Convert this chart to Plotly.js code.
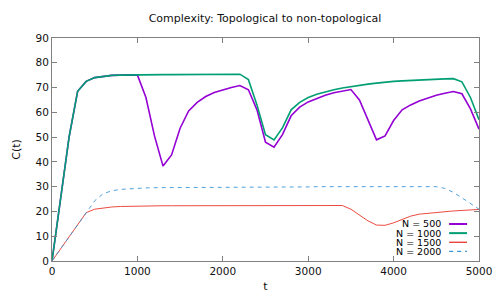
<!DOCTYPE html>
<html>
<head>
<meta charset="utf-8">
<script src="https://cdn.plot.ly/plotly-3.0.1.min.js"></script>
<style>html,body{margin:0;padding:0;background:#fff}#chart{width:500px;height:300px}</style>
</head>
<body>
<div id="chart"></div>
<script>
const t = [0,100,200,300,400,500,600,700,800,900,1000,1100,1200,1300,1400,1500,1600,1700,1800,1900,2000,2100,2200,2300,2400,2500,2600,2700,2800,2900,3000,3100,3200,3300,3400,3500,3600,3700,3800,3900,4000,4100,4200,4300,4400,4500,4600,4700,4800,4900,5000];

const names = ["N = 500", "N = 1000", "N = 1500", "N = 2000"];

const n500 = [0,25,50,68.5,72.5,74,74.6,74.9,75,75.1,75.1,66,50.5,38.3,42.8,53.6,60.6,64,66.4,68,69.1,70,70.8,69.1,61,47.9,45.9,51.1,58.6,62.1,64.2,65.7,66.9,67.9,68.7,69.2,65,56.7,48.9,50.5,56.7,61,63,64.6,65.9,66.9,67.7,68.4,67.5,61.4,53.2];

const n1000 = [0,25,50,68.5,72.5,74,74.6,74.9,75,75.1,75.1,75.1,75.2,75.2,75.2,75.2,75.2,75.3,75.3,75.3,75.3,75.3,75.4,73.2,63,51,48.9,53.8,61,64,66,67.3,68.3,69.1,69.8,70.4,70.9,71.4,71.8,72.2,72.5,72.7,72.9,73.1,73.3,73.4,73.5,73.6,72.3,66,57];

const n1500 = [0,4.9,9.8,14.7,19.5,20.9,21.5,21.8,22,22.1,22.2,22.2,22.2,22.3,22.3,22.3,22.3,22.3,22.3,22.3,22.3,22.3,22.4,22.4,22.4,22.4,22.4,22.4,22.4,22.4,22.4,22.4,22.4,22.4,22.4,20.9,18.5,16.2,14.5,14.4,15.4,16.9,18.1,18.9,19.3,19.7,20,20.2,20.4,20.6,20.8];

const n2000 = [0,4.9,9.8,14.7,19.6,24.3,27.2,28.3,28.9,29.2,29.4,29.5,29.6,29.6,29.7,29.7,29.7,29.8,29.8,29.8,29.8,29.8,29.9,29.9,29.9,29.9,29.9,29.9,29.9,29.9,29.9,30,30,30,30,30,30,30,30,30,30,30,30,30,30,30,29.3,27.7,25.5,23.2,20.9];

const series = [n500, n1000, n1500, n2000];
const colors = ["#9400d3", "#009e73", "#e8372a", "#3d96d6"];
const widths = [1.6, 1.6, 0.9, 0.9];
const dashes = ["solid", "solid", "solid", "4px,4px"];

const traces = series.map((y, i) => ({
  x: t, y: y, type: "scatter", mode: "lines", name: names[i],
  line: {color: colors[i], width: widths[i], dash: dashes[i]},
  showlegend: false, hoverinfo: "skip"
}));

// custom gnuplot-style key (text right-aligned, sample to the right)
const keyTextX = 0.916, keyLineX0 = 0.930, keyLineX1 = 0.972;
const keyRows = [0.166, 0.125, 0.084, 0.043];
const annotations = names.map((nm, i) => ({
  xref: "paper", yref: "paper", x: keyTextX, y: keyRows[i],
  xanchor: "right", yanchor: "middle", text: nm, showarrow: false,
  font: {family: "DejaVu Sans", size: 9.5, color: "#000"}
}));
const shapes = names.map((nm, i) => ({
  type: "line", xref: "paper", yref: "paper",
  x0: keyLineX0, x1: keyLineX1, y0: keyRows[i], y1: keyRows[i],
  line: {color: colors[i], width: widths[i] + 0.4, dash: dashes[i]}
}));

const axisCommon = {
  showgrid: false, zeroline: false, showline: true, linecolor: "#808080",
  linewidth: 1, mirror: "allticks", ticks: "inside", ticklen: 5,
  tickcolor: "#808080", tickwidth: 1,
  tickfont: {family: "DejaVu Sans", size: 10.5, color: "#111"}
};

const layout = {
  width: 500, height: 300,
  margin: {l: 52, r: 21, t: 38, b: 39},
  paper_bgcolor: "#fff", plot_bgcolor: "#fff",
  title: {text: "Complexity: Topological to non-topological",
          font: {family: "DejaVu Sans", size: 11, color: "#111"},
          x: 0.53, xanchor: "center", y: 0.94, yanchor: "middle"},
  xaxis: Object.assign({}, axisCommon, {
    range: [0, 5000], dtick: 1000, tick0: 0,
    title: {text: "t", font: {family: "DejaVu Sans", size: 11, color: "#111"}, standoff: 6}
  }),
  yaxis: Object.assign({}, axisCommon, {
    range: [0, 90], dtick: 10, tick0: 0,
    title: {text: "C(t)", font: {family: "DejaVu Sans", size: 11, color: "#111"}, standoff: 12}
  }),
  annotations: annotations,
  shapes: shapes,
  showlegend: false
};

Plotly.newPlot("chart", traces, layout, {displayModeBar: false, staticPlot: true});
</script>
</body>
</html>
